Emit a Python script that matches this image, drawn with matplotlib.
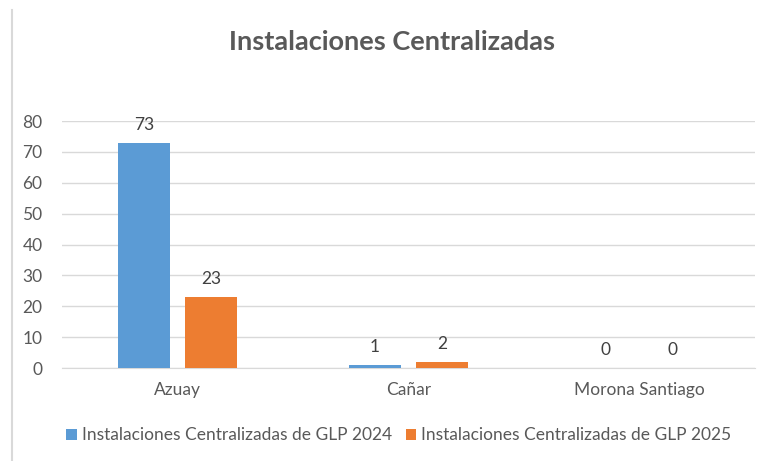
import numpy as np
import matplotlib.pyplot as plt
from matplotlib.lines import Line2D

# Data
provincias = ['Azuay', 'Cañar', 'Morona Santiago']
glp_2024 = [73, 1, 0]
glp_2025 = [23, 2, 0]
series_names = ['Instalaciones Centralizadas de GLP 2024',
                'Instalaciones Centralizadas de GLP 2025']

plt.rcParams['font.family'] = ['Lato', 'DejaVu Sans']

fig = plt.figure(figsize=(7.64, 4.61), dpi=100)
ax = fig.add_axes([0.0812, 0.2017, 0.9068, 0.5358])

x = np.arange(len(provincias))
w = 0.225
off = 0.145
b1 = ax.bar(x - off, glp_2024, w, color='#5B9BD5', label=series_names[0], zorder=3)
b2 = ax.bar(x + off, glp_2025, w, color='#ED7D31', label=series_names[1], zorder=3)

for bars in (b1, b2):
    for rect in bars:
        h = rect.get_height()
        ax.annotate(str(int(h)), (rect.get_x() + rect.get_width() / 2, h),
                    xytext=(0, 7), textcoords='offset points',
                    ha='center', va='bottom', fontsize=12.5, color='#404040')

ax.set_xlim(-0.5, 2.5)
ax.set_ylim(0, 80)
ax.set_yticks(range(0, 81, 10))
ax.set_xticks(x)
ax.set_xticklabels(provincias)
ax.grid(axis='y', color='#D9D9D9', linewidth=1, zorder=0)
for s in ['top', 'right', 'left']:
    ax.spines[s].set_visible(False)
ax.spines['bottom'].set_color('#D9D9D9')
ax.tick_params(axis='both', length=0, labelsize=12.5, colors='#595959')
ax.tick_params(axis='x', pad=10)
ax.tick_params(axis='y', pad=14)

fig.text(0.513, 0.909, 'Instalaciones Centralizadas', ha='center', va='center',
         fontsize=19.5, fontweight='bold', color='#595959')

fig.legend(handles=[b1, b2], loc='center', bbox_to_anchor=(0.522, 0.056), ncol=2,
           frameon=False, fontsize=12.5, labelcolor='#595959',
           handlelength=0.6, handleheight=0.6, handletextpad=0.3, columnspacing=0.8)

# chart border on the left
fig.add_artist(Line2D([12 / 764, 12 / 764], [0, 1 - 10 / 461],
                      transform=fig.transFigure, color='#D9D9D9', linewidth=1.5))

fig.savefig('out.png', dpi=100)
